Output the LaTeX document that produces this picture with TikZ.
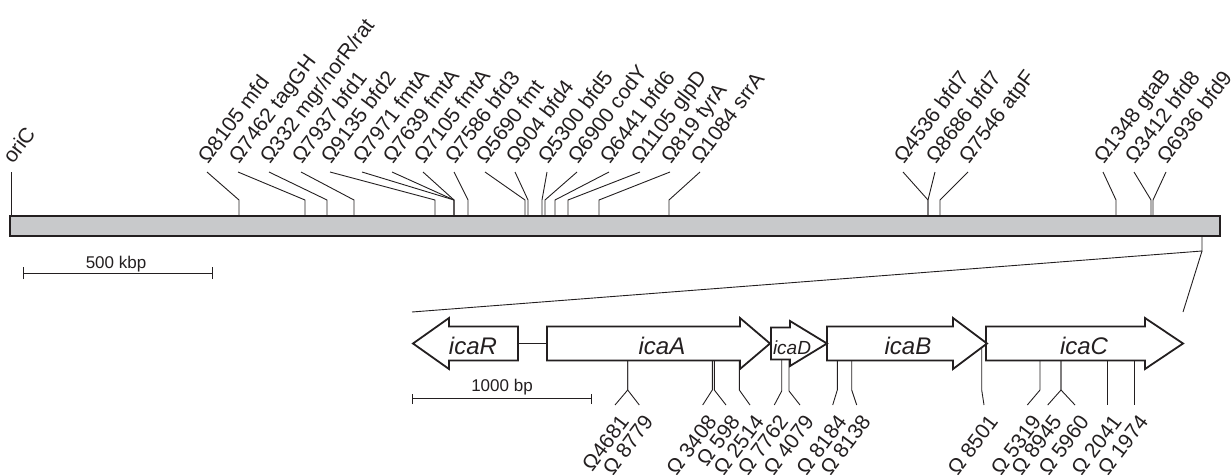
\documentclass[tikz,border=0pt]{standalone}
\usepackage{fontspec}
\setmainfont{Liberation Sans}
\definecolor{barg}{RGB}{200,201,203}
\definecolor{ink}{RGB}{35,31,32}
\begin{document}
\begin{tikzpicture}[x=1pt,y=-1pt,
  mk/.style={line width=0.9pt, draw=ink},
  toplab/.style={rotate=53, anchor=base west, inner sep=0pt, text=ink, font=\fontsize{21}{24}\selectfont},
  botlab/.style={rotate=53, anchor=base east, inner sep=0pt, text=ink, font=\fontsize{21}{24}\selectfont},
  gene/.style={draw=ink, line width=1.8pt, fill=white, line join=miter},
  genelab/.style={anchor=base, inner sep=0pt, text=ink, font=\fontsize{24}{28}\selectfont\itshape},
  scalelab/.style={anchor=base, inner sep=0pt, text=ink, font=\fontsize{17}{20}\selectfont}]
\useasboundingbox (0,0) rectangle (1231,474);
\clip (0,0) rectangle (1231,474);

% ---- top markers
\coordinate (oribar) at (11,216);
\coordinate (oritop) at (11,172);
\draw[mk] (oribar) -- (oritop);
\node[toplab] (orilab) at (13,165) {oriC};

\foreach \tx/\bx/\lab [count=\i] in {
  207/239/Ω8105 mfd,
  238/305/Ω7462 tagGH,
  269/327/Ω332 mgr\slash norR\slash rat,
  301/354/Ω7937 bfd1,
  330/435/Ω9135 bfd2,
  362/454/Ω7971 fmtA,
  392/454/Ω7639 fmtA,
  423/454/Ω7105 fmtA,
  454/468/Ω7586 bfd3,
  485/525/Ω5690 fmt,
  515/528/Ω904 bfd4,
  547/542/Ω5300 bfd5,
  577/545/Ω6900 codY,
  609/555/Ω6441 bfd6,
  640/568/Ω1105 glpD,
  670/599/Ω819 tyrA,
  700/669/Ω1084 srrA,
  903/928/Ω4536 bfd7,
  935/928/Ω8686 bfd7,
  968/940/Ω7546 atpF,
  1103/1116/Ω1348 gtaB,
  1134/1151/Ω3412 bfd8,
  1166/1153/Ω6936 bfd9}{
  \coordinate (tb\i) at (\bx,216);
  \coordinate (tk\i) at (\bx,200);
  \coordinate (te\i) at (\tx,172);
  \node[toplab] (tl\i) at (\tx+1,165) {\lab};
  \draw[mk] (tb\i) -- (tk\i) -- (te\i);
}

% ---- chromosome bar
\draw[draw=ink, line width=2pt, fill=barg] (10,216) rectangle (1220,236);

% ---- scale bar 500 kbp
\coordinate (sa) at (23,273);
\coordinate (sb) at (212,273);
\draw[mk] (sa) -- (sb);
\draw[mk] ([yshift=-6pt]sa) -- ([yshift=6pt]sa);
\draw[mk] ([yshift=-6pt]sb) -- ([yshift=6pt]sb);
\node[scalelab] (kbp) at (116,268) {500 kbp};

% ---- zoom lines
\coordinate (zb) at (1202,236);
\coordinate (zk) at (1202,251);
\coordinate (zl) at (412,312);
\coordinate (zr) at (1183,312);
\draw[mk] (zb) -- (zk) -- (zl);
\draw[mk] (zk) -- (zr);

% ---- bottom markers
\foreach \vx/\vt/\ky/\ex/\lab [count=\j] in {
  627.7/360.5/390/615/Ω4681,
  627.7/360.5/390/639.3/Ω 8779,
  712.3/360.5/390/702.7/Ω 3408,
  714.3/360.5/390/726/Ω 598,
  739.3/360.5/390/750/Ω 2514,
  781.7/359/391/774.3/Ω 7762,
  789/359/391/800/Ω 4079,
  837.3/360.5/390/832.7/Ω 8184,
  851.7/360.5/390/856.7/Ω 8138,
  981.7/347/390/984/Ω 8501,
  1040/360.5/390/1027.3/Ω 5319,
  1061/360.5/390/1047.7/Ω 8945,
  1061/360.5/390/1075/Ω 5960,
  1107.7/360.5/390/1107.7/Ω 2041,
  1134.3/360.5/390/1134.3/Ω 1974}{
  \coordinate (bt\j) at (\vx,\vt);
  \coordinate (bk\j) at (\vx,\ky);
  \coordinate (be\j) at (\ex,405);
  \node[botlab] (bl\j) at (\ex+15,422) {\lab};
  \draw[mk] (bt\j) -- (bk\j) -- (be\j);
}

% ---- genes
\coordinate (rEnd) at (518,343.5);
\coordinate (aStart) at (547,343.5);
\draw[draw=ink, line width=1.8pt] (rEnd) -- (aStart);
\draw[gene] (413,343.5) -- (449,318) -- (449,326.5) -- (518,326.5) -- (518,360.5) -- (449,360.5) -- (449,369) -- cycle;
\draw[gene] (547,326.5) -- (740,326.5) -- (740,318) -- (770,343.5) -- (740,369) -- (740,360.5) -- (547,360.5) -- cycle;
\draw[gene] (986,326.5) -- (1145,326.5) -- (1145,318) -- (1183,343.5) -- (1145,369) -- (1145,360.5) -- (986,360.5) -- cycle;
\draw[gene] (827,326.5) -- (953,326.5) -- (953,318) -- (987,343.5) -- (953,369) -- (953,360.5) -- (827,360.5) -- cycle;
\draw[gene] (771,327.5) -- (790,327.5) -- (790,321) -- (827,343.5) -- (790,366) -- (790,359.5) -- (771,359.5) -- cycle;
\node[genelab] (icaR) at (473,354) {icaR};
\node[genelab] (icaA) at (662,354) {icaA};
\node[genelab, font=\fontsize{19}{22}\selectfont\itshape] (icaD) at (792,354) {icaD};
\node[genelab] (icaB) at (908,354) {icaB};
\node[genelab] (icaC) at (1084,354) {icaC};

% ---- scale bar 1000 bp
\coordinate (ba) at (412,398.5);
\coordinate (bb) at (591,398.5);
\draw[mk] (ba) -- (bb);
\draw[mk] ([yshift=-5.5pt]ba) -- ([yshift=5pt]ba);
\draw[mk] ([yshift=-5.5pt]bb) -- ([yshift=5pt]bb);
\node[scalelab] (bp) at (502,391.5) {1000 bp};
\end{tikzpicture}
\end{document}
